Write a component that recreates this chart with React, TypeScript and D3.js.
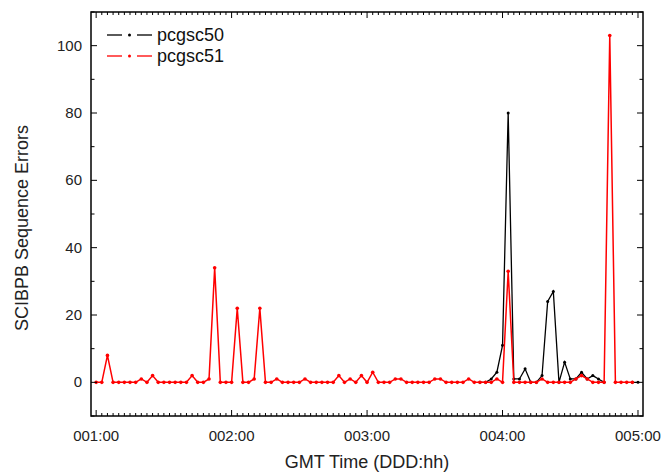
import React, { useEffect, useRef } from 'react';
import * as d3 from 'd3';

// hourly samples starting at 001:00
const dayTicks = [1, 2, 3, 4, 5];
const dayTickLabels = ['001:00', '002:00', '003:00', '004:00', '005:00'];
const yTicks = [0, 20, 40, 60, 80, 100];

const seriesNames = ['pcgsc50', 'pcgsc51'];
const seriesColors = ['#000000', '#ff0000'];

// pcgsc51, hours 0..95
const pcgsc51 = [
  0, 0, 8, 0, 0, 0, 0, 0, 1, 0,
  2, 0, 0, 0, 0, 0, 0, 2, 0, 0,
  1, 34, 0, 0, 0, 22, 0, 0, 1, 22,
  0, 0, 1, 0, 0, 0, 0, 1, 0, 0,
  0, 0, 0, 2, 0, 1, 0, 2, 0, 3,
  0, 0, 0, 1, 1, 0, 0, 0, 0, 0,
  1, 1, 0, 0, 0, 0, 1, 0, 0, 0,
  0, 1, 0, 33, 0, 0, 0, 0, 0, 1,
  0, 0, 0, 0, 0, 1, 2, 1, 0, 0,
  0, 103, 0, 0, 0, 0,
];

// pcgsc50, hours 68..96 (earlier hours lie under pcgsc51)
const pcgsc50Start = 68;
const pcgsc50 = [
  0, 0, 1, 3, 11, 80, 1, 1, 4, 0,
  0, 2, 24, 27, 0, 6, 1, 1, 3, 1,
  2, 1, 0, null, null, null, null, 0, 0,
];

type Pt = { h: number; v: number | null };

export default function App() {
  const ref = useRef<SVGSVGElement>(null);

  useEffect(() => {
    const W = 662, H = 472;
    const left = 91, right = 643, top = 12, bottom = 416;
    const svg = d3.select(ref.current);
    svg.selectAll('*').remove();

    const x = d3.scaleLinear().domain([0.962, 5.037]).range([left, right]);
    const y = d3.scaleLinear().domain([-10, 110]).range([bottom, top]);
    const font = '"Liberation Sans", Arial, sans-serif';

    const redPts: Pt[] = pcgsc51.map((v, i) => ({ h: i, v }));
    const blackPts: Pt[] = pcgsc50.map((v, i) => ({ h: pcgsc50Start + i, v }));
    const xh = (h: number) => x(1 + h / 24);

    const line = d3.line<Pt>()
      .defined(d => d.v !== null)
      .x(d => xh(d.h))
      .y(d => y(d.v as number));

    const g = svg.append('g');

    // series
    [blackPts, redPts].forEach((pts, k) => {
      const color = seriesColors[k];
      g.append('path')
        .datum(pts)
        .attr('d', line)
        .attr('fill', 'none')
        .attr('stroke', color)
        .attr('stroke-width', k === 0 ? 1.3 : 1.5);
      g.selectAll(null)
        .data(pts.filter(d => d.v !== null))
        .enter()
        .append('circle')
        .attr('cx', d => xh(d.h))
        .attr('cy', d => y(d.v as number))
        .attr('r', k === 0 ? 1.5 : 1.8)
        .attr('fill', color);
    });

    // frame
    svg.append('rect')
      .attr('x', left).attr('y', top)
      .attr('width', right - left).attr('height', bottom - top)
      .attr('fill', 'none').attr('stroke', '#000').attr('stroke-width', 1.5);

    // x ticks (hourly minors, daily majors), bottom and top, inward
    const hourTicks = d3.range(1, 5.04, 1 / 24);
    hourTicks.forEach(t => {
      const major = Math.abs(t - Math.round(t)) < 1e-6;
      const len = major ? 6 : 3;
      const px = x(t);
      svg.append('line').attr('x1', px).attr('x2', px)
        .attr('y1', bottom).attr('y2', bottom - len)
        .attr('stroke', '#000').attr('stroke-width', 1);
      svg.append('line').attr('x1', px).attr('x2', px)
        .attr('y1', top).attr('y2', top + len)
        .attr('stroke', '#000').attr('stroke-width', 1);
    });

    // y ticks every 10, majors every 20, left and right, inward
    d3.range(-10, 111, 10).forEach(v => {
      const major = v % 20 === 0;
      const len = major ? 6 : 3.5;
      const py = y(v);
      svg.append('line').attr('x1', left).attr('x2', left + len)
        .attr('y1', py).attr('y2', py)
        .attr('stroke', '#000').attr('stroke-width', 1);
      svg.append('line').attr('x1', right).attr('x2', right - len)
        .attr('y1', py).attr('y2', py)
        .attr('stroke', '#000').attr('stroke-width', 1);
    });

    // tick labels
    svg.selectAll(null).data(dayTicks).enter().append('text')
      .attr('x', d => x(d)).attr('y', 441)
      .attr('text-anchor', 'middle')
      .style('font-family', font).style('font-size', '15px').style('fill', '#222')
      .text((d, i) => dayTickLabels[i]);

    svg.selectAll(null).data(yTicks).enter().append('text')
      .attr('x', 82).attr('y', d => y(d) + 5)
      .attr('text-anchor', 'end')
      .style('font-family', font).style('font-size', '15px').style('fill', '#222')
      .text(d => d);

    // axis titles
    svg.append('text')
      .attr('x', 367).attr('y', 468)
      .attr('text-anchor', 'middle')
      .style('font-family', font).style('font-size', '18px').style('fill', '#222')
      .text('GMT Time (DDD:hh)');

    svg.append('text')
      .attr('transform', 'translate(28,228) rotate(-90)')
      .attr('text-anchor', 'middle')
      .style('font-family', font).style('font-size', '18px').style('fill', '#222')
      .text('SCIBPB Sequence Errors');

    // legend
    seriesNames.forEach((name, k) => {
      const ly = k === 0 ? 35 : 56;
      const color = seriesColors[k];
      const lg = svg.append('g');
      lg.append('line').attr('x1', 107).attr('x2', 122).attr('y1', ly).attr('y2', ly)
        .attr('stroke', color).attr('stroke-width', 1.3);
      lg.append('line').attr('x1', 137).attr('x2', 152).attr('y1', ly).attr('y2', ly)
        .attr('stroke', color).attr('stroke-width', 1.3);
      lg.append('circle').attr('cx', 129.5).attr('cy', ly).attr('r', 1.5).attr('fill', color);
      lg.append('text')
        .attr('x', 157).attr('y', ly + 6)
        .style('font-family', font).style('font-size', '18px').style('fill', '#111')
        .text(name);
    });

    svg.attr('width', W).attr('height', H);
  }, []);

  return (
    <svg ref={ref} width={662} height={472}
      style={{ position: 'absolute', left: 0, top: 0, background: '#fff' }} />
  );
}
